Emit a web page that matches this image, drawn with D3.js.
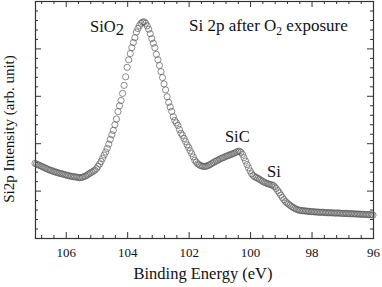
<!DOCTYPE html>
<html>
<head>
<meta charset="utf-8">
<script src="https://cdn.jsdelivr.net/npm/d3@7"></script>
<style>
  body { margin: 0; background: #fff; }
  svg { display: block; }
</style>
</head>
<body>
<div class="xps-chart"></div>
<script>
// Si 2p spectrum after O2 exposure: [binding energy (eV), intensity (arb.)]
const spectrum = [
  [107.00, 31.5], [106.95, 31.2], [106.90, 30.9], [106.85, 30.6], [106.80, 30.3],
  [106.75, 30.0], [106.70, 29.7], [106.65, 29.4], [106.60, 29.1], [106.55, 28.8],
  [106.50, 28.6], [106.45, 28.4], [106.40, 28.1], [106.35, 27.9], [106.30, 27.7],
  [106.25, 27.5], [106.20, 27.3], [106.15, 27.2], [106.10, 27.0], [106.05, 26.8],
  [106.00, 26.6], [105.95, 26.4], [105.90, 26.3], [105.85, 26.1], [105.80, 26.0],
  [105.75, 25.9], [105.70, 25.8], [105.65, 25.7], [105.60, 25.6], [105.55, 25.4],
  [105.50, 25.5], [105.45, 25.7], [105.40, 25.9], [105.35, 26.2], [105.30, 26.6],
  [105.25, 27.0], [105.20, 27.4], [105.15, 27.8], [105.10, 28.2], [105.05, 28.6],
  [105.00, 29.3], [104.95, 30.2], [104.90, 31.2], [104.85, 32.3], [104.80, 33.6],
  [104.75, 35.0], [104.70, 36.3], [104.65, 37.8], [104.60, 39.6], [104.55, 41.6],
  [104.50, 43.6], [104.45, 45.4], [104.40, 47.8], [104.35, 50.2], [104.30, 53.3],
  [104.25, 55.8], [104.20, 58.0], [104.15, 61.0], [104.10, 64.4], [104.05, 68.0],
  [104.00, 72.0], [103.95, 75.2], [103.90, 77.8], [103.85, 80.3], [103.80, 82.5],
  [103.75, 84.5], [103.70, 86.9], [103.65, 88.4], [103.60, 89.6], [103.55, 90.6],
  [103.50, 91.1], [103.45, 91.2], [103.40, 90.6], [103.35, 89.5], [103.30, 88.1],
  [103.25, 86.2], [103.20, 84.1], [103.15, 82.2], [103.10, 80.3], [103.05, 77.5],
  [103.00, 75.2], [102.95, 72.8], [102.90, 70.2], [102.85, 67.7], [102.80, 65.0],
  [102.75, 62.5], [102.70, 59.6], [102.65, 57.2], [102.60, 55.3], [102.55, 53.4],
  [102.50, 51.2], [102.45, 49.6], [102.40, 48.6], [102.35, 47.5], [102.30, 45.8],
  [102.25, 44.2], [102.20, 43.3], [102.15, 42.0], [102.10, 40.7], [102.05, 39.3],
  [102.00, 38.2], [101.95, 36.8], [101.90, 35.6], [101.85, 34.2], [101.80, 32.8],
  [101.75, 32.0], [101.70, 31.3], [101.65, 30.8], [101.60, 30.5], [101.55, 30.3],
  [101.50, 30.2], [101.45, 30.2], [101.40, 30.4], [101.35, 30.7], [101.30, 31.0],
  [101.25, 31.4], [101.20, 31.8], [101.15, 32.2], [101.10, 32.5], [101.05, 32.8],
  [101.00, 33.2], [100.95, 33.5], [100.90, 33.8], [100.85, 34.0], [100.80, 34.4],
  [100.75, 34.6], [100.70, 34.9], [100.65, 35.1], [100.60, 35.4], [100.55, 35.6],
  [100.50, 35.9], [100.45, 36.2], [100.40, 36.5], [100.35, 36.6], [100.30, 36.2],
  [100.25, 35.3], [100.20, 33.9], [100.15, 32.5], [100.10, 31.0], [100.05, 29.6],
  [100.00, 28.3], [99.95, 27.1], [99.90, 26.4], [99.85, 25.9], [99.80, 25.5],
  [99.75, 25.2], [99.70, 24.8], [99.65, 24.4], [99.60, 24.0], [99.55, 23.6],
  [99.50, 23.3], [99.45, 23.0], [99.40, 22.8], [99.35, 22.6], [99.30, 22.4],
  [99.25, 22.2], [99.20, 21.6], [99.15, 20.9], [99.10, 20.0], [99.05, 19.1],
  [99.00, 18.1], [98.95, 17.1], [98.90, 16.2], [98.85, 15.4], [98.80, 14.8],
  [98.75, 14.3], [98.70, 13.8], [98.65, 13.3], [98.60, 12.9], [98.55, 12.5],
  [98.50, 12.2], [98.45, 11.9], [98.40, 11.7], [98.35, 11.6], [98.30, 11.5],
  [98.25, 11.5], [98.20, 11.4], [98.15, 11.3], [98.10, 11.3], [98.05, 11.2],
  [98.00, 11.1], [97.95, 11.1], [97.90, 11.0], [97.85, 11.0], [97.80, 10.9],
  [97.75, 10.9], [97.70, 10.8], [97.65, 10.9], [97.60, 10.8], [97.55, 10.7],
  [97.50, 10.7], [97.45, 10.6], [97.40, 10.7], [97.35, 10.6], [97.30, 10.6],
  [97.25, 10.5], [97.20, 10.5], [97.15, 10.6], [97.10, 10.5], [97.05, 10.4],
  [97.00, 10.4], [96.95, 10.3], [96.90, 10.4], [96.85, 10.3], [96.80, 10.3],
  [96.75, 10.2], [96.70, 10.3], [96.65, 10.2], [96.60, 10.2], [96.55, 10.1],
  [96.50, 10.1], [96.45, 10.1], [96.40, 10.0], [96.35, 10.0], [96.30, 10.0],
  [96.25, 9.9], [96.20, 9.9], [96.15, 9.9], [96.10, 9.8], [96.05, 9.8],
  [96.00, 9.7]
];

const xMajorTicks = [106, 104, 102, 100, 98, 96];
const xMinorTicks = [106.8, 106.4, 105.6, 105.2, 104.8, 104.4, 103.6, 103.2, 102.8, 102.4,
  101.6, 101.2, 100.8, 100.4, 99.6, 99.2, 98.8, 98.4, 97.6, 97.2, 96.8, 96.4];
const yMajorTicks = [0, 20, 40, 60, 80, 100];
const yMinorTicks = [4, 8, 12, 16, 24, 28, 32, 36, 44, 48, 52, 56, 64, 68, 72, 76, 84, 88, 92, 96];

const peakLabels = [
  { name: "SiO", sub: "2", e: 105.21, v: 87.0 },
  { name: "SiC", sub: "", e: 100.82, v: 40.5 },
  { name: "Si", sub: "", e: 99.45, v: 25.6 }
];

const width = 382;
const height = 287;
const margin = { top: 1, right: 9, bottom: 49, left: 35 };

const svg = d3.select(".xps-chart")
  .append("svg")
  .attr("width", width)
  .attr("height", height)
  .style("font-family", "'Liberation Serif', 'Times New Roman', serif");

const x = d3.scaleLinear()
  .domain([107, 96])
  .range([margin.left, width - margin.right]);

const y = d3.scaleLinear()
  .domain([0, 100])
  .range([height - margin.bottom, margin.top]);

const axisColor = "#333";

const drawAxis = (axis, transform, labels) => {
  const g = svg.append("g")
    .attr("transform", transform)
    .call(axis);
  g.select(".domain").remove();
  g.selectAll("line").attr("stroke", axisColor);
  if (!labels) g.selectAll("text").remove();
  return g;
}

const bottomY = height - margin.bottom;
const rightX = width - margin.right;

// x axes (bottom with labels, top without), ticks pointing inward
const xb = drawAxis(d3.axisBottom(x).tickValues(xMajorTicks).tickSizeInner(-6).tickSizeOuter(0).tickPadding(10),
  `translate(0,${bottomY})`, true);
xb.attr("font-family", null);
xb.selectAll("text")
  .attr("fill", "#111")
  .style("font-size", "13px");
drawAxis(d3.axisBottom(x).tickValues(xMinorTicks).tickSizeInner(-3).tickSizeOuter(0), `translate(0,${bottomY})`, false);
drawAxis(d3.axisTop(x).tickValues(xMajorTicks).tickSizeInner(-6).tickSizeOuter(0), `translate(0,${margin.top})`, false);
drawAxis(d3.axisTop(x).tickValues(xMinorTicks).tickSizeInner(-3).tickSizeOuter(0), `translate(0,${margin.top})`, false);

// y axes, no labels (arb. unit)
drawAxis(d3.axisLeft(y).tickValues(yMajorTicks).tickSizeInner(-6).tickSizeOuter(0), `translate(${margin.left},0)`, false);
drawAxis(d3.axisLeft(y).tickValues(yMinorTicks).tickSizeInner(-3).tickSizeOuter(0), `translate(${margin.left},0)`, false);
drawAxis(d3.axisRight(y).tickValues(yMajorTicks).tickSizeInner(-6).tickSizeOuter(0), `translate(${rightX},0)`, false);
drawAxis(d3.axisRight(y).tickValues(yMinorTicks).tickSizeInner(-3).tickSizeOuter(0), `translate(${rightX},0)`, false);

// frame
svg.append("rect")
  .attr("x", margin.left + 0.5)
  .attr("y", margin.top + 0.5)
  .attr("width", rightX - margin.left)
  .attr("height", bottomY - margin.top)
  .attr("fill", "none")
  .attr("stroke", axisColor)
  .attr("stroke-width", 1.2);

// data points: open circles
svg.append("g")
  .selectAll("circle")
  .data(spectrum)
  .enter()
  .append("circle")
  .attr("cx", d => x(d[0]))
  .attr("cy", d => y(d[1]))
  .attr("r", 3.1)
  .attr("fill", "none")
  .attr("stroke", "#5a5a5a")
  .attr("stroke-width", 0.7);

// peak annotations
peakLabels.forEach(p => {
  const t = svg.append("text")
    .attr("x", x(p.e))
    .attr("y", y(p.v))
    .attr("fill", "#111")
    .style("font-size", "16.5px")
    .text(p.name);
  if (p.sub) {
    t.append("tspan")
      .attr("dy", 3.5)
      .text(p.sub);
  }
});

// title inside the plot
const title = svg.append("text")
  .attr("x", 189)
  .attr("y", 31)
  .attr("fill", "#111")
  .style("font-size", "17px");
title.append("tspan").text("Si 2p after O");
title.append("tspan").attr("dy", 4).style("font-size", "11.5px").text("2");
title.append("tspan").attr("dy", -4).text(" exposure");

// axis titles
svg.append("text")
  .attr("x", (margin.left + rightX) / 2 - 1)
  .attr("y", 278.5)
  .attr("text-anchor", "middle")
  .attr("fill", "#111")
  .style("font-size", "16.5px")
  .text("Binding Energy (eV)");

svg.append("text")
  .attr("transform", "translate(13.5,129) rotate(-90)")
  .attr("text-anchor", "middle")
  .attr("fill", "#111")
  .style("font-size", "15px")
  .text("Si2p Intensity (arb. unit)");
</script>
</body>
</html>
